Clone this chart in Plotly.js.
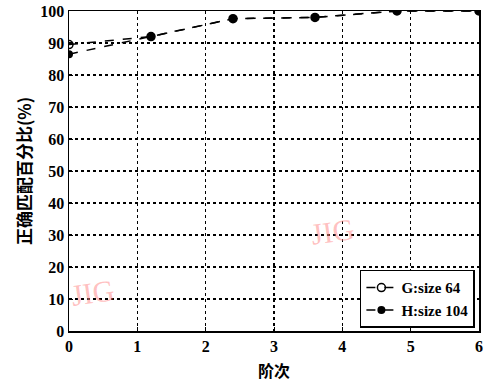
<!DOCTYPE html>
<html><head><meta charset="utf-8">
<script src="https://cdn.plot.ly/plotly-3.0.1.min.js"></script>
<style>body{margin:0;padding:0;background:#fff}#chart{width:486px;height:392px}</style>
</head><body><div id="chart"></div>
<script>
const orders = [0, 1.2, 2.4, 3.6, 4.8, 6];
const sizeG64 = [89.5, 92, 97.6, 98, 100, 100];
const sizeH104 = [86.5, 92, 97.6, 98, 100, 100];
const seriesNames = ['G:size 64', 'H:size 104'];
const xTicks = [0, 1, 2, 3, 4, 5, 6];
const yTicks = [0, 10, 20, 30, 40, 50, 60, 70, 80, 90, 100];

const tickFont = {family: 'Liberation Serif, serif', size: 16, color: '#000', weight: 'bold'};
const axisBase = {
  showline: true, linecolor: '#000', linewidth: 1.5, mirror: true,
  showgrid: true, gridcolor: '#000', griddash: 'dot', gridwidth: 1.2,
  zeroline: false, ticks: 'inside', ticklen: 4, tickcolor: '#000',
  tickfont: tickFont
};

const data = [
  {x: orders, y: sizeG64, name: seriesNames[0], mode: 'lines+markers',
   line: {color: '#000', width: 1.5, dash: 'dash'},
   marker: {symbol: 'circle-open', size: 8, color: '#000', line: {width: 1.5}}},
  {x: orders, y: sizeH104, name: seriesNames[1], mode: 'lines+markers',
   line: {color: '#000', width: 1.5, dash: 'dash'},
   marker: {symbol: 'circle', size: 8, color: '#000'}}
];

const layout = {
  width: 486, height: 392,
  margin: {l: 69, r: 7, t: 11, b: 61},
  paper_bgcolor: '#fff', plot_bgcolor: '#fff',
  showlegend: true,
  legend: {x: 0.99, y: 0.01, xanchor: 'right', yanchor: 'bottom',
    bgcolor: '#fff', bordercolor: '#000', borderwidth: 1.5,
    font: {family: 'Liberation Serif, serif', size: 15, color: '#000', weight: 'bold'},
    itemwidth: 30, tracegroupgap: 0},
  xaxis: Object.assign({}, axisBase, {range: [0, 6], tickvals: xTicks,
    title: {text: '阶次', font: {family: 'Noto Sans CJK SC', size: 16, color: '#000', weight: 'bold'}, standoff: 12}}),
  yaxis: Object.assign({}, axisBase, {range: [0, 100], tickvals: yTicks,
    title: {text: '正确匹配百分比(%)', font: {family: 'Noto Sans CJK SC', size: 17, color: '#000', weight: 'bold'}, standoff: 4}}),
  annotations: [
    {x: 0.35, y: 12, xref: 'x', yref: 'y', text: 'JIG', showarrow: false, textangle: -8,
     font: {family: 'Liberation Serif, serif', size: 30, color: 'rgba(255,140,140,0.55)'}},
    {x: 3.85, y: 31, xref: 'x', yref: 'y', text: 'JIG', showarrow: false, textangle: -8,
     font: {family: 'Liberation Serif, serif', size: 30, color: 'rgba(255,140,140,0.55)'}}
  ]
};

Plotly.newPlot('chart', data, layout, {displayModeBar: false, staticPlot: true});
</script></body></html>
